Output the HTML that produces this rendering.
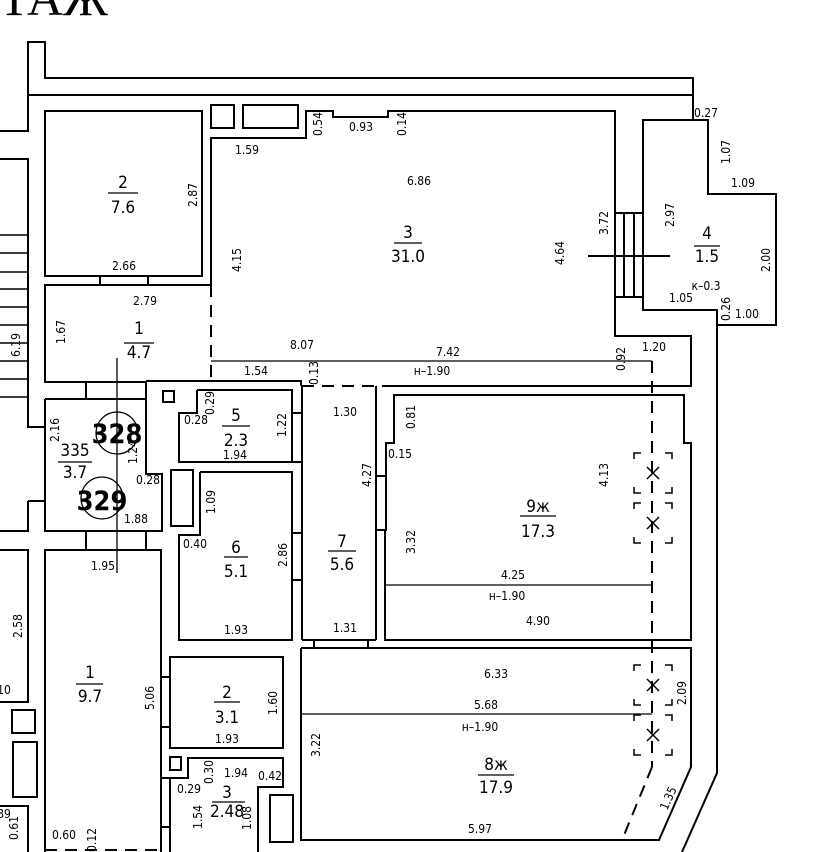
<!DOCTYPE html>
<html><head><meta charset="utf-8"><style>
html,body{margin:0;padding:0;background:#fff;}
svg{display:block;}
text{font-family:"Liberation Sans Narrow","DejaVu Sans Condensed","Liberation Sans",sans-serif;fill:#000;}
.d{font-size:12px;}
.r{font-size:17px;}
</style></head><body>
<svg width="820" height="852" viewBox="0 0 820 852" xmlns="http://www.w3.org/2000/svg">
<g fill="none" stroke="#000" stroke-width="2">
<polyline points="0,131 28,131 28,42 45,42 45,78 693,78 693,120"/>
<line x1="28" y1="95" x2="693" y2="95"/>
<polyline points="0,159 28,159 28,427 45,427"/>
<line x1="28" y1="501" x2="45" y2="501"/>
<polyline points="28,501 28,531 0,531"/>
<g stroke-width="1.5">
<line x1="0" y1="235" x2="28" y2="235"/><line x1="0" y1="253" x2="28" y2="253"/>
<line x1="0" y1="272" x2="28" y2="272"/><line x1="0" y1="289" x2="28" y2="289"/>
<line x1="0" y1="307" x2="28" y2="307"/><line x1="0" y1="325" x2="28" y2="325"/>
<line x1="0" y1="343" x2="28" y2="343"/><line x1="0" y1="361" x2="28" y2="361"/>
<line x1="0" y1="379" x2="28" y2="379"/><line x1="0" y1="397" x2="28" y2="397"/>
</g>
<rect x="45" y="111" width="157" height="165"/>
<rect x="100" y="276" width="48" height="9"/>
<rect x="211" y="105" width="23" height="23"/>
<rect x="243" y="105" width="55" height="23"/>
<polyline points="211,285 211,138 306,138 306,111 333,111 333,117 388,117 388,111 615,111 615,336 691,336 691,386 386,386"/>
<rect x="615" y="213" width="28" height="84"/>
<line x1="624" y1="213" x2="624" y2="297"/><line x1="634" y1="213" x2="634" y2="297"/>
<line x1="588" y1="256" x2="670" y2="256"/>
<polyline points="643,213 643,120 708,120 708,194 776,194 776,325 717,325 717,310 643,310 643,297"/>
<polyline points="717,325 717,773 682,852"/>
<polyline points="211,285 45,285 45,382 146,382"/>
<polyline points="146,381 301,381 301,386"/>
<rect x="86" y="382" width="60" height="17"/>
<polyline points="45,399 146,399 146,474 162,474 162,531 45,531 45,399"/>
<line x1="146" y1="382" x2="146" y2="399"/>
<rect x="86" y="531" width="60" height="19"/>
<polyline points="45,852 45,550 161,550 161,852"/>
<polyline points="0,550 28,550 28,702 0,702"/>
<rect x="12" y="710" width="23" height="23"/>
<rect x="13" y="742" width="24" height="55"/>
<polyline points="0,806 28,806 28,852"/>
<polyline points="197,390 292,390 292,462 179,462 179,413 197,413 197,390"/>
<rect x="163" y="391" width="11" height="11"/>
<rect x="292" y="413" width="10" height="49"/>
<polyline points="200,472 292,472 292,640 179,640 179,535 200,535 200,472"/>
<rect x="292" y="533" width="10" height="47"/>
<rect x="171" y="470" width="22" height="56"/>
<line x1="302" y1="386" x2="302" y2="640"/>
<line x1="376" y1="386" x2="376" y2="640"/>
<line x1="302" y1="640" x2="376" y2="640"/>
<rect x="314" y="640" width="54" height="8"/>
<rect x="376" y="476" width="10" height="54"/>
<polyline points="386,530 385,530 385,640 691,640 691,443 684,443 684,395 394,395 394,443 386,443 386,476"/>
<polyline points="301,648 691,648 691,767 659,840 301,840 301,648"/>
<rect x="170" y="657" width="113" height="91"/>
<rect x="161" y="677" width="9" height="50"/>
<polyline points="170,852 170,778 188,778 188,758 283,758 283,787 258,787 258,852"/>
<rect x="170" y="757" width="11" height="13"/>
<rect x="161" y="778" width="9" height="49"/>
<rect x="270" y="795" width="23" height="47"/>
</g>
<g fill="none" stroke="#000" stroke-width="2" stroke-dasharray="12,8">
<line x1="211" y1="285" x2="211" y2="383"/>
<line x1="302" y1="386" x2="386" y2="386"/>
<line x1="652" y1="361" x2="652" y2="767"/>
<line x1="652" y1="767" x2="622" y2="840"/>
<line x1="45" y1="850" x2="161" y2="850"/>
</g>
<g stroke="#000" stroke-width="1.3" fill="none">
<line x1="211" y1="361" x2="652" y2="361"/>
<line x1="385" y1="585" x2="652" y2="585"/>
<line x1="301" y1="714" x2="652" y2="714"/>
<line x1="117" y1="358" x2="117" y2="573"/>
</g>
<g stroke="#000" stroke-width="1.5" fill="none">
<g id="v"><polyline points="634,459 634,453 641,453"/><polyline points="665,453 672,453 672,459"/><polyline points="634,487 634,493 641,493"/><polyline points="665,493 672,493 672,487"/><line x1="647" y1="467" x2="659" y2="479"/><line x1="659" y1="467" x2="647" y2="479"/></g>
<use href="#v" y="50"/><use href="#v" y="212"/><use href="#v" y="262"/>
</g>
<g fill="none" stroke="#000" stroke-width="1.3">
<circle cx="117" cy="433" r="21"/><circle cx="102" cy="498" r="21"/>
</g>
<text x="-34" y="15" style="font-family:'Liberation Serif',serif;font-size:50px">ЭТАЖ</text>
<g class="r" text-anchor="middle">
<text x="123" y="188">2</text><text x="123" y="213">7.6</text>
<text x="408" y="238">3</text><text x="408" y="262">31.0</text>
<text x="707" y="239">4</text><text x="707" y="262">1.5</text>
<text x="139" y="334">1</text><text x="139" y="358">4.7</text>
<text x="75" y="456">335</text><text x="75" y="478">3.7</text>
<text x="236" y="421">5</text><text x="236" y="446">2.3</text>
<text x="236" y="553">6</text><text x="236" y="577">5.1</text>
<text x="342" y="547">7</text><text x="342" y="570">5.6</text>
<text x="538" y="512">9ж</text><text x="538" y="537">17.3</text>
<text x="90" y="678">1</text><text x="90" y="702">9.7</text>
<text x="227" y="698">2</text><text x="227" y="723">3.1</text>
<text x="227" y="798">3</text><text x="227" y="817">2.48</text>
<text x="496" y="770">8ж</text><text x="496" y="793">17.9</text>
</g>
<g stroke="#000" stroke-width="1.2">
<line x1="108" y1="193" x2="138" y2="193"/>
<line x1="394" y1="243" x2="422" y2="243"/><line x1="694" y1="246" x2="720" y2="246"/>
<line x1="124" y1="343" x2="154" y2="343"/><line x1="58" y1="462" x2="92" y2="462"/>
<line x1="222" y1="426" x2="250" y2="426"/><line x1="224" y1="557" x2="248" y2="557"/>
<line x1="328" y1="551" x2="356" y2="551"/><line x1="520" y1="516" x2="556" y2="516"/>
<line x1="76" y1="684" x2="103" y2="684"/><line x1="214" y1="702" x2="240" y2="702"/>
<line x1="212" y1="802" x2="245" y2="802"/><line x1="478" y1="775" x2="514" y2="775"/>
</g>
<g text-anchor="middle" style="font-family:'Liberation Sans',sans-serif;font-weight:bold;font-size:27px">
<text x="117" y="443">328</text><text x="102" y="510">329</text>
</g>
<g class="d" text-anchor="middle">
<text x="247" y="154">1.59</text><text x="361" y="131">0.93</text><text x="419" y="185">6.86</text>
<text x="124" y="270">2.66</text><text x="145" y="305">2.79</text><text x="302" y="349">8.07</text>
<text x="448" y="356">7.42</text><text x="432" y="375">н–1.90</text><text x="256" y="375">1.54</text>
<text x="706" y="117">0.27</text><text x="743" y="187">1.09</text><text x="706" y="290">к–0.3</text>
<text x="681" y="302">1.05</text><text x="747" y="318">1.00</text><text x="654" y="351">1.20</text>
<text x="345" y="416">1.30</text><text x="196" y="424">0.28</text><text x="235" y="459">1.94</text>
<text x="148" y="484">0.28</text><text x="136" y="523">1.88</text><text x="103" y="570">1.95</text>
<text x="195" y="548">0.40</text><text x="236" y="634">1.93</text><text x="345" y="632">1.31</text>
<text x="400" y="458">0.15</text><text x="513" y="579">4.25</text><text x="507" y="600">н–1.90</text>
<text x="538" y="625">4.90</text><text x="496" y="678">6.33</text><text x="486" y="709">5.68</text>
<text x="480" y="731">н–1.90</text><text x="480" y="833">5.97</text>
<text x="227" y="743">1.93</text><text x="236" y="777">1.94</text><text x="270" y="780">0.42</text>
<text x="189" y="793">0.29</text><text x="64" y="839">0.60</text><text x="4" y="694">10</text><text x="4" y="818">89</text>
</g>
<g class="d" text-anchor="middle">
<text transform="translate(197,195) rotate(-90)">2.87</text>
<text transform="translate(241,260) rotate(-90)">4.15</text>
<text transform="translate(322,124) rotate(-90)">0.54</text>
<text transform="translate(406,124) rotate(-90)">0.14</text>
<text transform="translate(564,253) rotate(-90)">4.64</text>
<text transform="translate(608,223) rotate(-90)">3.72</text>
<text transform="translate(674,215) rotate(-90)">2.97</text>
<text transform="translate(730,152) rotate(-90)">1.07</text>
<text transform="translate(770,260) rotate(-90)">2.00</text>
<text transform="translate(730,309) rotate(-90)">0.26</text>
<text transform="translate(625,359) rotate(-90)">0.92</text>
<text transform="translate(65,332) rotate(-90)">1.67</text>
<text transform="translate(20,345) rotate(-90)">6.19</text>
<text transform="translate(318,373) rotate(-90)">0.13</text>
<text transform="translate(214,403) rotate(-90)">0.29</text>
<text transform="translate(286,425) rotate(-90)">1.22</text>
<text transform="translate(59,430) rotate(-90)">2.16</text>
<text transform="translate(137,452) rotate(-90)">1.24</text>
<text transform="translate(215,502) rotate(-90)">1.09</text>
<text transform="translate(287,555) rotate(-90)">2.86</text>
<text transform="translate(371,475) rotate(-90)">4.27</text>
<text transform="translate(415,417) rotate(-90)">0.81</text>
<text transform="translate(415,542) rotate(-90)">3.32</text>
<text transform="translate(608,475) rotate(-90)">4.13</text>
<text transform="translate(22,626) rotate(-90)">2.58</text>
<text transform="translate(154,698) rotate(-90)">5.06</text>
<text transform="translate(277,703) rotate(-90)">1.60</text>
<text transform="translate(320,745) rotate(-90)">3.22</text>
<text transform="translate(686,693) rotate(-90)">2.09</text>
<text transform="translate(213,772) rotate(-90)">0.30</text>
<text transform="translate(202,817) rotate(-90)">1.54</text>
<text transform="translate(251,818) rotate(-90)">1.08</text>
<text transform="translate(96,840) rotate(-90)">0.12</text>
<text transform="translate(18,828) rotate(-90)">0.61</text>
<text transform="translate(672,800) rotate(-66)">1.35</text>
</g>
</svg>
</body></html>
